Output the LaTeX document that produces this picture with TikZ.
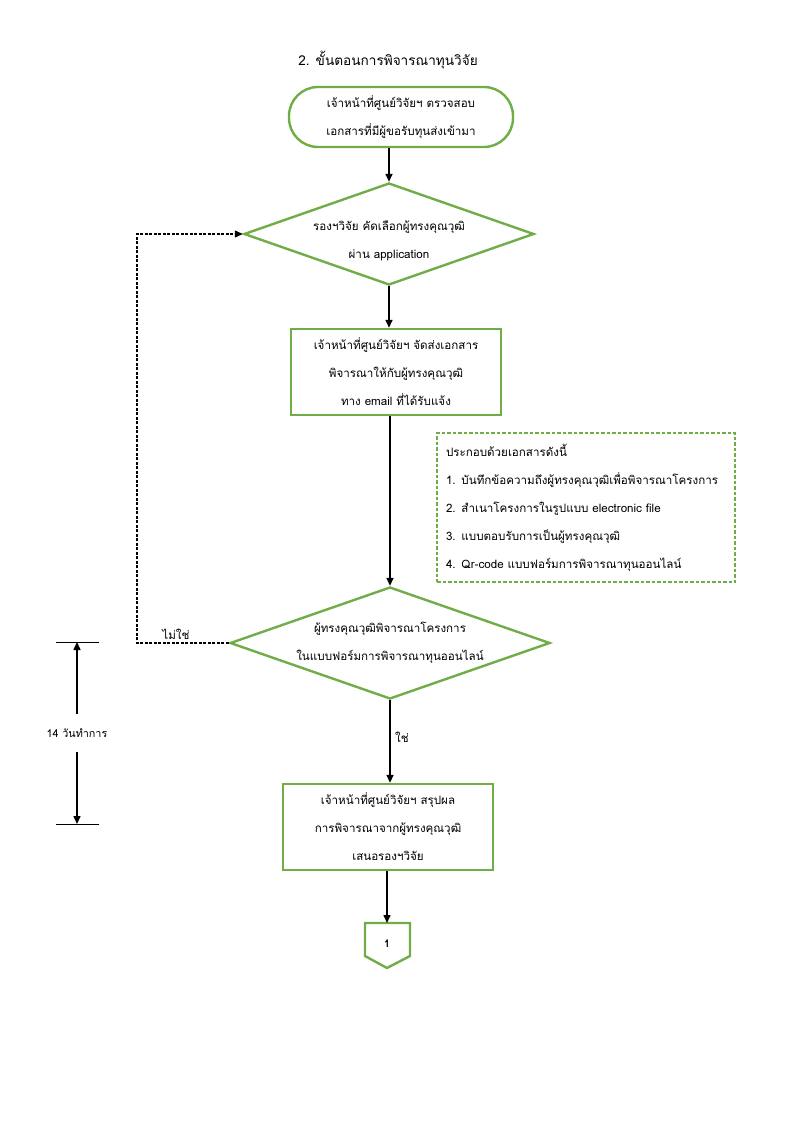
\documentclass[tikz,border=0pt]{standalone}
\usepackage{fontspec}
\setmainfont[Script=Thai]{Loma}
\usetikzlibrary{shapes.geometric,arrows.meta,calc}
\definecolor{grn}{HTML}{70AD47}
\begin{document}
\begin{tikzpicture}[x=1pt,y=-1pt,
  txt/.style={font=\fontsize{11.6}{28}\selectfont},
  box/.style={txt, draw=grn, line width=2.4pt, fill=white, align=center},
  term/.style={box, rounded corners=29pt, minimum width=224, minimum height=60},
  proc/.style={box, rectangle, minimum width=210, minimum height=86},
  dec/.style={box, diamond, aspect=2.85, inner sep=0pt},
  arr/.style={-{Triangle[width=7pt,length=8pt]}, line width=1.5pt},
  loop/.style={dash pattern=on 3pt off 1.5pt, line width=1.1pt, -{Triangle[width=7pt,length=8pt]}},
  note/.style={txt, draw=grn, line width=1.3pt, dash pattern=on 3.5pt off 2pt, align=left, text width=280pt, inner xsep=9pt, minimum height=149}
]
\useasboundingbox (0,0) rectangle (794,1123);
\node[font=\fontsize{13.6}{16}\selectfont] (title) at (388,60) {2. ขั้นตอนการพิจารณาทุนวิจัย};
\node[term] (s) at (401,117) {เจ้าหน้าที่ศูนย์วิจัยฯ ตรวจสอบ\\เอกสารที่มีผู้ขอรับทุนส่งเข้ามา};
\node[dec, minimum width=290, minimum height=102] (d1) at (389,234) {};
\node[txt, align=center] (d1t) at (389,241) {รองฯวิจัย คัดเลือกผู้ทรงคุณวุฒิ\\ผ่าน application};
\node[proc] (p1) at (396,372) {เจ้าหน้าที่ศูนย์วิจัยฯ จัดส่งเอกสาร\\พิจารณาให้กับผู้ทรงคุณวุฒิ\\ทาง email ที่ได้รับแจ้ง};
\node[note] (note) at (586,507.5) {ประกอบด้วยเอกสารดังนี้\\1. บันทึกข้อความถึงผู้ทรงคุณวุฒิเพื่อพิจารณาโครงการ\\2. สำเนาโครงการในรูปแบบ electronic file\\3. แบบตอบรับการเป็นผู้ทรงคุณวุฒิ\\4. Qr-code แบบฟอร์มการพิจารณาทุนออนไลน์};
\node[dec, minimum width=320, minimum height=112] (d2) at (390,643) {ผู้ทรงคุณวุฒิพิจารณาโครงการ\\ในแบบฟอร์มการพิจารณาทุนออนไลน์};
\node[proc] (p3) at (388,827) {เจ้าหน้าที่ศูนย์วิจัยฯ สรุปผล\\การพิจารณาจากผู้ทรงคุณวุฒิ\\เสนอรองฯวิจัย};
\coordinate (op) at (387,923);
\draw[grn, line width=2.4pt] ($(op)+(-22,0)$) -- ($(op)+(23,0)$) -- ($(op)+(23,33)$) -- ($(op)+(0,45)$) -- ($(op)+(-22,33)$) -- cycle;
\node[font=\fontsize{10.5}{12}\selectfont\bfseries] (n1) at ($(op)+(0,21)$) {1};
% connectors
\draw[arr] (s.south -| d1.north) -- (d1.north);
\draw[arr] (d1.south) -- (d1.south |- p1.north);
\draw[arr] (p1.south -| d2.north) -- (d2.north);
\draw[arr] (d2.south) -- (d2.south |- p3.north);
\draw[arr] (p3.south -| op) -- (op);
\coordinate (lp) at (137,643);
\draw[loop] (d2.west) -- (lp) |- (d1.west);
\node[txt] (no) at (176,634) {ไม่ใช่};
\node[txt] (yes) at (402,737) {ใช่};
% dimension
\coordinate (dt) at (77,642);
\coordinate (db) at (77,824);
\coordinate (dtl) at (56,642);
\coordinate (dtr) at (99,642);
\coordinate (dbl) at (56,824);
\coordinate (dbr) at (99,824);
\draw[line width=1pt] (dtl) -- (dtr);
\draw[line width=1pt] (dbl) -- (dbr);
\node[font=\fontsize{10.8}{28}\selectfont, inner ysep=14pt] (dim) at (77,733) {14 วันทำการ};
\draw[arr] (dim.north -| dt) -- (dt);
\draw[arr] (dim.south -| db) -- (db);
\end{tikzpicture}
\end{document}
